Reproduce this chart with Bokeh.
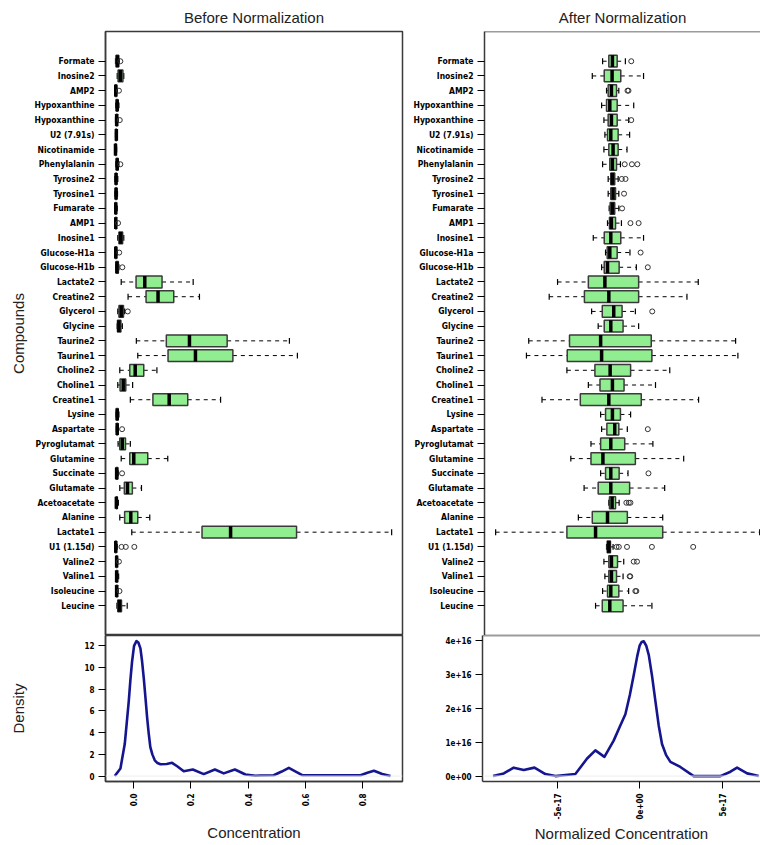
import math

from bokeh.plotting import figure
from bokeh.layouts import column, row
from bokeh.models import Range1d, FixedTicker, Span, NumeralTickFormatter
from bokeh.embed import file_html
from bokeh.resources import INLINE

# ---------------------------------------------------------------------------
# Data
# ---------------------------------------------------------------------------
compounds = [
    "Formate", "Inosine2", "AMP2", "Hypoxanthine", "Hypoxanthine", "U2 (7.91s)",
    "Nicotinamide", "Phenylalanin", "Tyrosine2", "Tyrosine1", "Fumarate", "AMP1",
    "Inosine1", "Glucose-H1a", "Glucose-H1b", "Lactate2", "Creatine2", "Glycerol",
    "Glycine", "Taurine2", "Taurine1", "Choline2", "Choline1", "Creatine1", "Lysine",
    "Aspartate", "Pyroglutamat", "Glutamine", "Succinate", "Glutamate",
    "Acetoacetate", "Alanine", "Lactate1", "U1 (1.15d)", "Valine2", "Valine1",
    "Isoleucine", "Leucine",
]

# Raw concentrations: whisker low, Q1, median, Q3, whisker high, outliers
raw_low = [-0.064, -0.058, -0.066, -0.063, -0.064, -0.064, -0.066, -0.063, -0.066, -0.066,
           -0.066, -0.066, -0.056, -0.066, -0.063, -0.044, -0.020, -0.056, -0.058, 0.009,
           0.014, -0.049, -0.056, -0.012, -0.062, -0.061, -0.055, -0.044, -0.063, -0.049,
           -0.063, -0.049, -0.007, -0.066, -0.063, -0.063, -0.063, -0.059]
raw_q1 = [-0.062, -0.055, -0.065, -0.061, -0.062, -0.063, -0.065, -0.061, -0.064, -0.064,
          -0.065, -0.064, -0.052, -0.065, -0.062, 0.008, 0.043, -0.052, -0.057, 0.114,
          0.120, -0.014, -0.048, 0.067, -0.061, -0.060, -0.049, -0.014, -0.062, -0.033,
          -0.062, -0.032, 0.239, -0.065, -0.062, -0.062, -0.062, -0.056]
raw_med = [-0.057, -0.047, -0.063, -0.058, -0.060, -0.061, -0.064, -0.058, -0.062, -0.062,
           -0.063, -0.063, -0.046, -0.063, -0.059, 0.0385, 0.085, -0.044, -0.052, 0.195,
           0.216, 0.005, -0.037, 0.124, -0.058, -0.058, -0.040, 0.000, -0.060, -0.022,
           -0.061, -0.0105, 0.339, -0.063, -0.060, -0.060, -0.060, -0.050]
raw_q3 = [-0.053, -0.038, -0.060, -0.056, -0.057, -0.060, -0.062, -0.055, -0.060, -0.060,
          -0.061, -0.061, -0.039, -0.060, -0.054, 0.099, 0.140, -0.036, -0.045, 0.327,
          0.347, 0.035, -0.028, 0.189, -0.055, -0.056, -0.029, 0.049, -0.056, -0.005,
          -0.058, 0.014, 0.570, -0.061, -0.058, -0.057, -0.057, -0.043]
raw_high = [-0.051, -0.035, -0.058, -0.052, -0.055, -0.058, -0.060, -0.052, -0.056, -0.057,
            -0.058, -0.060, -0.035, -0.058, -0.052, 0.208, 0.230, -0.032, -0.040, 0.545,
            0.573, 0.081, -0.004, 0.304, -0.052, -0.054, -0.012, 0.119, -0.054, 0.027,
            -0.054, 0.056, 0.903, -0.058, -0.056, -0.053, -0.055, -0.023]
raw_outliers = [[-0.047], [], [-0.052], [], [-0.049], [], [], [-0.047], [], [],
                [], [-0.055], [], [-0.051], [-0.040], [], [], [-0.021], [], [],
                [], [], [], [], [], [-0.041], [], [], [-0.041], [],
                [], [], [], [-0.043, -0.028, 0.002], [-0.052], [], [-0.050], []]

# Normalized concentrations, in units of 1e-17
norm_low = [-2.32, -2.95, -2.08, -2.38, -2.24, -2.18, -2.24, -2.32, -1.98, -1.98,
            -1.92, -2.02, -2.89, -2.14, -2.38, -5.07, -5.58, -2.99, -2.59, -6.83,
            -6.97, -4.50, -3.19, -6.02, -2.44, -2.38, -3.03, -4.26, -2.44, -3.45,
            -1.94, -3.80, -8.85, -2.08, -2.24, -2.18, -2.32, -2.75]
norm_q1 = [-1.94, -2.22, -1.98, -2.08, -1.98, -2.02, -1.94, -1.88, -1.82, -1.82,
           -1.86, -1.90, -2.22, -2.04, -2.22, -3.19, -3.43, -2.34, -2.22, -4.34,
           -4.48, -2.79, -2.48, -3.68, -2.14, -2.06, -2.44, -3.03, -2.14, -2.59,
           -1.90, -2.95, -4.50, -2.04, -1.94, -1.94, -2.02, -2.34]
norm_med = [-1.72, -1.74, -1.78, -1.88, -1.78, -1.82, -1.68, -1.72, -1.72, -1.68,
            -1.72, -1.78, -1.82, -1.88, -2.02, -2.18, -1.94, -1.64, -1.82, -2.44,
            -2.38, -1.86, -1.72, -1.94, -1.72, -1.58, -1.82, -2.30, -1.82, -1.82,
            -1.74, -2.02, -2.75, -1.94, -1.78, -1.78, -1.82, -1.88]
norm_q3 = [-1.43, -1.21, -1.47, -1.43, -1.43, -1.37, -1.37, -1.47, -1.58, -1.53,
           -1.58, -1.53, -1.21, -1.43, -1.31, -0.12, -0.12, -1.13, -1.07, 0.65,
           0.69, -0.61, -1.01, 0.04, -1.23, -1.33, -0.97, -0.32, -1.31, -0.67,
           -1.53, -0.81, 1.35, -1.84, -1.41, -1.47, -1.33, -1.07]
norm_high = [-0.93, 0.18, -1.33, -0.42, -0.73, -0.67, -0.83, -1.23, -1.37, -1.33,
             -1.33, -1.17, 0.18, -0.65, -0.26, 3.52, 2.83, -0.32, -0.12, 5.80,
             5.94, 1.78, 0.91, 3.54, -0.61, -0.81, 0.75, 2.63, -0.77, 1.47,
             -1.31, 1.35, 7.27, -1.68, -1.03, -1.07, -0.73, 0.69]
norm_outliers = [[-0.57], [], [-0.80, -0.74], [], [-0.57], [], [], [-0.97, -0.53, -0.20],
                 [-1.15, -0.92], [-1.01], [-1.13], [-0.62, -0.12], [], [0.0], [0.44],
                 [], [], [0.71], [], [], [], [], [], [], [], [0.44], [], [], [0.48], [],
                 [-0.87, -0.72, -0.62], [], [], [-1.47, -1.33, -0.83, 0.69, 3.21],
                 [-0.42, -0.22], [-0.67, -0.63], [-0.32, -0.26], []]

# Kernel density of all values
raw_dens_x = [-0.0666, -0.0467, -0.0315, -0.0175, -0.012, -0.006, 0.001, 0.0093, 0.016,
              0.0233, 0.029, 0.035, 0.041, 0.0467, 0.052, 0.058, 0.065, 0.0735, 0.083,
              0.0934, 0.115, 0.134, 0.152, 0.175, 0.2067, 0.245, 0.284, 0.315, 0.354,
              0.391, 0.426, 0.444, 0.490, 0.518, 0.543, 0.567, 0.590, 0.794, 0.818,
              0.841, 0.870, 0.899]
raw_dens_y = [0.0, 0.70, 2.97, 6.9, 8.8, 10.55, 12.0, 12.43, 12.3, 11.76, 10.6, 9.03,
              7.2, 5.4, 4.0, 2.67, 2.0, 1.45, 1.2, 1.09, 1.12, 1.22, 0.91, 0.45, 0.61,
              0.18, 0.61, 0.25, 0.61, 0.15, 0.03, 0.05, 0.08, 0.42, 0.76, 0.42, 0.08,
              0.08, 0.30, 0.49, 0.20, 0.0]
norm_dens_x = [-8.89, -8.24, -7.64, -7.03, -6.38, -5.72, -5.11, -3.90, -3.19, -2.69,
               -2.14, -1.58, -1.21, -0.87, -0.60, -0.36, -0.15, 0.0, 0.12, 0.24, 0.40,
               0.55, 0.75, 0.95, 1.15, 1.35, 1.60, 1.86, 2.46, 3.27, 4.89, 5.50, 5.90,
               6.51, 7.21]
norm_dens_y = [0.0, 0.08, 0.25, 0.18, 0.25, 0.06, 0.0, 0.06, 0.52, 0.76, 0.57, 1.05,
               1.46, 1.83, 2.4, 3.0, 3.55, 3.87, 3.97, 3.99, 3.85, 3.58, 2.95, 2.22, 1.5,
               0.95, 0.62, 0.42, 0.27, 0.0, 0.0, 0.13, 0.25, 0.08, 0.0]

raw_ticks = [0.0, 0.2, 0.4, 0.6, 0.8]
norm_ticks = [-5, 0, 5]
norm_tick_labels = ["-5e-17", "0e+00", "5e-17"]
raw_dens_ticks = [0, 2, 4, 6, 8, 10, 12]
norm_dens_ticks = [0, 1, 2, 3, 4]
norm_dens_tick_labels = ["0e+00", "1e+16", "2e+16", "3e+16", "4e+16"]

# ---------------------------------------------------------------------------
# Styling
# ---------------------------------------------------------------------------
TICK_FONT = "'Liberation Sans Narrow', 'DejaVu Sans Condensed', 'Liberation Sans', sans-serif"
TEXT_FONT = "Liberation Sans"
FRAME = "#3a3a3a"
BOX_FILL = "#90ee90"
CURVE = "#15158f"

n = len(compounds)
ypos = list(range(n, 0, -1))
Y_RANGE = (0.5 - 0.04 * n, n + 0.5 + 0.04 * n)


def style_axis(ax, size="8.5px"):
    ax.major_label_text_font = TICK_FONT
    ax.major_label_text_font_style = "bold"
    ax.major_label_text_font_size = size
    ax.major_label_text_color = "black"
    ax.major_tick_out = 7
    ax.major_tick_in = 0
    ax.minor_tick_line_color = None
    ax.major_tick_line_color = "black"
    ax.axis_line_color = FRAME
    ax.axis_line_width = 1.5
    ax.axis_label_text_font = TEXT_FONT
    ax.axis_label_text_font_style = "normal"
    ax.axis_label_text_font_size = "15px"
    ax.axis_label_text_color = "#222222"


def box_panel(title, x_range, low, q1, med, q3, high, outl, width, border_left,
              border_right, show_names_label, full_outline, title_offset=0):
    p = figure(width=width, height=635, x_range=x_range, y_range=Range1d(*Y_RANGE),
               output_backend="svg", toolbar_location=None, x_axis_location=None,
               min_border_left=border_left, min_border_right=border_right,
               min_border_top=31, min_border_bottom=0)
    p.title.text = title
    p.title.align = "center"
    p.title.text_font = TEXT_FONT
    p.title.text_font_size = "15px"
    p.title.text_font_style = "normal"
    p.title.text_color = "#222222"
    p.title.standoff = 11
    p.title.offset = title_offset
    p.xgrid.visible = False
    p.ygrid.visible = False
    p.background_fill_color = "white"
    p.border_fill_color = "white"
    if full_outline:
        p.outline_line_color = FRAME
        p.outline_line_width = 1.5
    else:
        p.outline_line_color = None
        for loc in Y_RANGE:
            p.add_layout(Span(location=loc, dimension="width", line_color=FRAME, line_width=1.5))

    ax = p.yaxis[0]
    ax.ticker = FixedTicker(ticks=ypos)
    ax.major_label_overrides = {y: name for y, name in zip(ypos, compounds)}
    ax.major_label_standoff = 4
    style_axis(ax)
    if show_names_label:
        ax.axis_label = "Compounds"
        ax.axis_label_standoff = 4

    # whiskers (dashed) and staples
    p.segment(x0=low, y0=ypos, x1=q1, y1=ypos, line_color="black", line_width=1,
              line_dash="4 4")
    p.segment(x0=q3, y0=ypos, x1=high, y1=ypos, line_color="black", line_width=1,
              line_dash="4 4")
    p.segment(x0=low, y0=[v - 0.2 for v in ypos], x1=low, y1=[v + 0.2 for v in ypos],
              line_color="black", line_width=1.2)
    p.segment(x0=high, y0=[v - 0.2 for v in ypos], x1=high, y1=[v + 0.2 for v in ypos],
              line_color="black", line_width=1.2)
    # boxes and medians
    p.hbar(y=ypos, left=q1, right=q3, height=0.8, fill_color=BOX_FILL,
           line_color=FRAME, line_width=1.5)
    p.segment(x0=med, y0=[v - 0.4 for v in ypos], x1=med, y1=[v + 0.4 for v in ypos],
              line_color="black", line_width=3.5)
    # outliers
    ox, oy = [], []
    for v, pts in zip(ypos, outl):
        for x in pts:
            ox.append(x)
            oy.append(v)
    p.scatter(x=ox, y=oy, marker="circle", size=5, fill_color=None,
              line_color="#333333", line_width=1)
    return p


def density_panel(x_range, xs, ys, y_range, xticks, yticks, xlabel, width, border_left,
                  border_right, show_density_label, full_outline, xlabel_standoff,
                  xtick_overrides=None, ytick_overrides=None, xformat=None):
    p = figure(width=width, height=210, x_range=x_range, y_range=Range1d(*y_range),
               output_backend="svg", toolbar_location=None,
               min_border_left=border_left, min_border_right=border_right,
               min_border_top=0, min_border_bottom=62)
    p.xgrid.visible = False
    p.ygrid.visible = False
    if full_outline:
        p.outline_line_color = FRAME
        p.outline_line_width = 1.5
    else:
        p.outline_line_color = None
        p.add_layout(Span(location=y_range[1], dimension="width", line_color=FRAME,
                          line_width=1.5))
    p.add_layout(Span(location=0, dimension="width", line_color="#eeeeee", line_width=1))

    xa = p.xaxis[0]
    xa.ticker = FixedTicker(ticks=xticks)
    if xformat:
        xa.formatter = NumeralTickFormatter(format=xformat)
    if xtick_overrides:
        xa.major_label_overrides = xtick_overrides
    xa.major_label_orientation = math.pi / 2
    xa.major_label_standoff = 5
    style_axis(xa, "8px")
    xa.axis_label = xlabel
    xa.axis_label_standoff = xlabel_standoff

    ya = p.yaxis[0]
    ya.ticker = FixedTicker(ticks=yticks)
    if ytick_overrides:
        ya.major_label_overrides = ytick_overrides
    ya.major_label_standoff = 4
    style_axis(ya, "8px")
    if show_density_label:
        ya.axis_label = "Density"
        ya.axis_label_standoff = 54

    p.line(xs, ys, line_color=CURVE, line_width=2.6, line_join="round")
    return p


raw_x = Range1d(-0.099, 0.941)
norm_x = Range1d(-9.53, 7.32)

before_box = box_panel("Before Normalization", raw_x, raw_low, raw_q1, raw_med, raw_q3,
                       raw_high, raw_outliers, 410, 105, 8, True, True)
after_box = box_panel("After Normalization", norm_x, norm_low, norm_q1, norm_med, norm_q3,
                      norm_high, norm_outliers, 350, 72, 0, False, False, title_offset=5)

before_dens = density_panel(raw_x, raw_dens_x, raw_dens_y, (-0.498, 12.95), raw_ticks,
                            raw_dens_ticks, "Concentration", 410, 105, 8, True, True, 15,
                            xformat="0.0")
after_dens = density_panel(norm_x, norm_dens_x, norm_dens_y, (-0.16, 4.16), norm_ticks,
                           norm_dens_ticks, "Normalized Concentration", 350, 72, 0, False,
                           False, 3,
                           xtick_overrides=dict(zip(norm_ticks, norm_tick_labels)),
                           ytick_overrides=dict(zip(norm_dens_ticks, norm_dens_tick_labels)))

layout = column(row(before_box, after_box), row(before_dens, after_dens))

open("out.html", "w").write(file_html(layout, INLINE))
